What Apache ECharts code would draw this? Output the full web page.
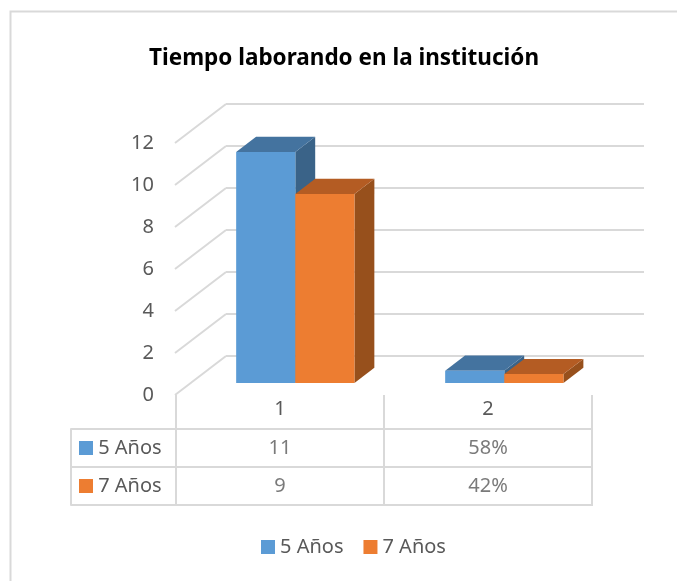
<!DOCTYPE html>
<html>
<head>
<meta charset="utf-8">
<script src="https://cdn.jsdelivr.net/npm/echarts@6/dist/echarts.min.js"></script>
<style>
  html, body { margin: 0; padding: 0; background: #fff; }
  #chart { width: 677px; height: 581px; }
</style>
</head>
<body>
<div id="chart"></div>
<script>
// datos
const categories = ['1', '2'];
const seriesNames = ['5 Años', '7 Años'];
const anios5 = [11, 0.58];
const anios7 = [9, 0.42];
const cellFormats = ['num', 'pct'];
const yTicks = [0, 2, 4, 6, 8, 10, 12];

// colores (frente, techo, lado)
const palette = [
  { front: '#5B9BD5', top: '#44739F', side: '#3A6388' },
  { front: '#ED7D31', top: '#B45C23', side: '#97501C' }
];

const FONT = '"Noto Sans", "Liberation Sans", sans-serif';
const TXT = '#595959';
const GRID_LINE = '#D9D9D9';

// proyeccion oblicua: profundidad total del piso
const DEPTH_DX = -51;
const DEPTH_DY = 39;
const FRONT = 0.69;
const BACK = 0.30;
const BAR_RATIO = 0.283;

const formatCell = (v, c) => cellFormats[c] === 'pct' ? Math.round(v * 100) + '%' : String(v);

/**
 * barra 3D dibujada sobre la pared del fondo
 */
const bar3d = (pos) => (params, api) => {
  const cat = api.value(0);
  const val = api.value(1);
  const band = api.size([1, 0])[0];
  const c = api.coord([cat, val]);
  const z = api.coord([cat, 0]);
  const w = band * BAR_RATIO;
  const x0 = c[0] + (pos === 0 ? -w : 0);
  const x1 = x0 + w;
  const fx = DEPTH_DX * FRONT, fy = DEPTH_DY * FRONT;
  const bx = DEPTH_DX * BACK, by = DEPTH_DY * BACK;
  const col = palette[pos];
  return {
    type: 'group',
    children: [
      {
        type: 'polygon',
        shape: { points: [[x1 + fx, c[1] + fy], [x1 + bx, c[1] + by], [x1 + bx, z[1] + by], [x1 + fx, z[1] + fy]] },
        style: { fill: col.side }
      },
      {
        type: 'polygon',
        shape: { points: [[x0 + fx, c[1] + fy], [x1 + fx, c[1] + fy], [x1 + bx, c[1] + by], [x0 + bx, c[1] + by]] },
        style: { fill: col.top }
      },
      {
        type: 'rect',
        shape: { x: x0 + fx, y: c[1] + fy, width: w, height: z[1] - c[1] },
        style: { fill: col.front }
      }
    ]
  };
};

// lineas de la pared lateral
const sideWall = (params, api) => {
  const band = api.size([1, 0])[0];
  const p = api.coord([0, api.value(1)]);
  const xl = p[0] - band / 2;
  return {
    type: 'line',
    shape: { x1: xl, y1: p[1], x2: xl + DEPTH_DX, y2: p[1] + DEPTH_DY },
    style: { stroke: GRID_LINE, lineWidth: 2 }
  };
};

const tableCells = [];
[anios5, anios7].forEach((arr, s) => {
  arr.forEach((v, c) => tableCells.push([c, s, v]));
});

const chart = echarts.init(document.getElementById('chart'));

const option = {
  animation: false,
  textStyle: { fontFamily: FONT },
  title: {
    text: 'Tiempo laborando en la institución',
    left: 339,
    textAlign: 'center',
    top: 42,
    textStyle: { fontFamily: FONT, fontSize: 22.5, fontWeight: 'bold', color: '#000' }
  },
  graphic: [
    {
      type: 'rect',
      shape: { x: 10.5, y: 11.5, width: 720, height: 620 },
      style: { fill: 'none', stroke: GRID_LINE, lineWidth: 2 },
      silent: true
    }
  ],
  legend: {
    data: seriesNames,
    bottom: 19,
    left: 256,
    icon: 'rect',
    itemWidth: 14,
    itemHeight: 14,
    itemGap: 20,
    textStyle: { fontFamily: FONT, fontSize: 20, color: TXT }
  },
  grid: [
    { left: 226, top: 104, width: 418, height: 252 },
    { left: 176, top: 143, width: 416, height: 252 },
    { left: 176, top: 429, width: 416, height: 76, show: true, borderColor: GRID_LINE, borderWidth: 2 }
  ],
  xAxis: [
    {
      gridIndex: 0, type: 'category', data: categories,
      axisLine: { show: false }, axisTick: { show: false }, axisLabel: { show: false }
    },
    {
      gridIndex: 1, type: 'category', data: categories,
      axisLine: { show: false },
      axisTick: { show: true, length: 110, lineStyle: { color: GRID_LINE, width: 2 } },
      axisLabel: { fontSize: 20, color: TXT, margin: 4 }
    },
    {
      gridIndex: 2, type: 'category', data: categories,
      axisLine: { show: false }, axisTick: { show: false }, axisLabel: { show: false },
      splitLine: { show: true, lineStyle: { color: GRID_LINE, width: 2 } }
    }
  ],
  yAxis: [
    {
      gridIndex: 0, type: 'value', min: 0, max: 12, interval: 2,
      axisLine: { show: false }, axisTick: { show: false }, axisLabel: { show: false },
      splitLine: { show: true, lineStyle: { color: GRID_LINE, width: 2 } }
    },
    {
      gridIndex: 1, type: 'value', min: 0, max: 12, interval: 2,
      axisLine: { show: false }, axisTick: { show: false }, splitLine: { show: false },
      axisLabel: { fontSize: 20, color: TXT, margin: 22 }
    },
    {
      gridIndex: 2, type: 'category', data: seriesNames, inverse: true,
      axisLine: { show: false },
      axisTick: { show: true, length: 105, lineStyle: { color: GRID_LINE, width: 2 } },
      splitLine: { show: true, lineStyle: { color: GRID_LINE, width: 2 } },
      axisLabel: {
        align: 'left',
        margin: 97,
        fontSize: 20,
        color: TXT,
        formatter: (val, idx) => `{k${idx}|}{t| ${val}}`,
        rich: {
          k0: { width: 14, height: 14, backgroundColor: palette[0].front },
          k1: { width: 14, height: 14, backgroundColor: palette[1].front },
          t: { fontSize: 20, color: TXT, fontFamily: FONT }
        }
      }
    },
    {
      gridIndex: 2, type: 'category', data: seriesNames, inverse: true,
      position: 'left', offset: 105,
      axisLine: { show: true, lineStyle: { color: GRID_LINE, width: 2 } },
      axisTick: { show: false }, axisLabel: { show: false }, splitLine: { show: false }
    }
  ],
  series: [
    {
      type: 'custom',
      xAxisIndex: 0, yAxisIndex: 0,
      silent: true,
      renderItem: sideWall,
      data: yTicks.map(v => [0, v]),
      z: 1
    },
    {
      name: seriesNames[0],
      type: 'custom',
      xAxisIndex: 0, yAxisIndex: 0,
      itemStyle: { color: palette[0].front },
      renderItem: bar3d(0),
      data: anios5.map((v, i) => [i, v]),
      z: 2
    },
    {
      name: seriesNames[1],
      type: 'custom',
      xAxisIndex: 0, yAxisIndex: 0,
      itemStyle: { color: palette[1].front },
      renderItem: bar3d(1),
      data: anios7.map((v, i) => [i, v]),
      z: 3
    },
    {
      type: 'scatter',
      xAxisIndex: 2, yAxisIndex: 2,
      symbolSize: 0,
      silent: true,
      label: {
        show: true,
        position: 'inside',
        fontSize: 20,
        color: TXT,
        fontFamily: FONT,
        formatter: (p) => formatCell(p.value[2], p.value[0])
      },
      data: tableCells
    }
  ]
};

chart.setOption(option);
</script>
</body>
</html>
